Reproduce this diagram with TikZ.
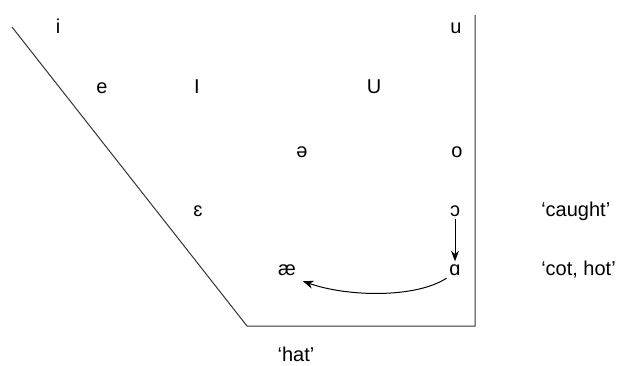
\documentclass[tikz,border=0pt]{standalone}
\usepackage{fontspec}
\setmainfont{Liberation Sans}
\usetikzlibrary{arrows.meta}

\begin{document}
\begin{tikzpicture}[x=0.75pt, y=-0.75pt,
    vowel/.style={anchor=base, inner sep=2pt, font=\fontsize{15}{18}\selectfont},
    gloss/.style={anchor=base west, inner sep=0pt, font=\fontsize{15}{18}\selectfont},
    chart/.style={line width=0.75pt, black!80},
    soundshift/.style={-{Stealth[length=8pt, width=6pt]}, line width=0.75pt}]
    % --- 图的边界 ---
    \useasboundingbox (0,0) rectangle (621,365);

    % --- 元音图的外框 ---
    \coordinate (top left) at (12,27);
    \coordinate (low left) at (247,326);
    \coordinate (low right) at (475,326);
    \coordinate (top right) at (475,15);
    \draw[chart] (top left) -- (low left) -- (low right) -- (top right);

    % --- 元音 ---
    \node[vowel] (i) at (58,33) {i};
    \node[vowel] (u) at (456,33) {u};
    \node[vowel] (e) at (102,93) {e};
    \node[vowel] (I) at (197,93) {I};
    \node[vowel] (U) at (374,93) {U};
    \node[vowel] (schwa) at (302,157) {ə};
    \node[vowel] (o) at (457,157) {o};
    \node[vowel] (eps) at (198,216) {ɛ};
    \node[vowel] (openo) at (455,216) {ɔ};
    \node[vowel] (ae) at (287,275) {æ};
    \node[vowel] (alpha) at (455,275) {ɑ};

    % --- 例词 ---
    \node[gloss] (caught) at (541,216) {‘caught’};
    \node[gloss] (cothot) at (541,275) {‘cot, hot’};
    \node[vowel, inner sep=0pt] (hat) at (296,361) {‘hat’};

    % --- 音变箭头 ---
    \draw[soundshift] (openo.south) -- (alpha.north);
    \draw[soundshift] (alpha.south west) .. controls +(-30,20) and +(45,16) .. ([shift={(4,3)}]ae.south east);

\end{tikzpicture}
\end{document}
